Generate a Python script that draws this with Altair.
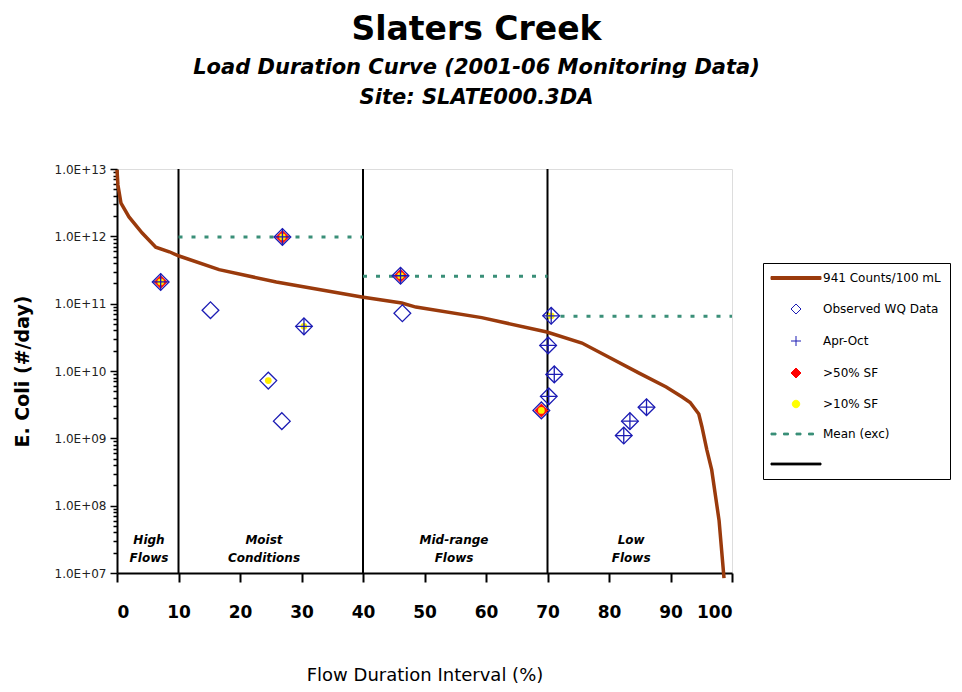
import altair as alt
import pandas as pd

# ---- data ----
curve_x = [0, 0.15, 0.65, 1.95, 4.1, 6.3, 8.5, 10.1, 16.6, 25.9, 39.8, 46.3, 48.6, 59.3,
           69.9, 75.6, 80.0, 84.9, 89.3, 91.9, 93.2, 94.6, 95.1, 95.9, 96.7, 97.9, 98.7]
curve_y = [9.7e12, 5.8e12, 3.1e12, 1.94e12, 1.12e12, 6.9e11, 5.9e11, 5.1e11, 3.2e11, 2.1e11,
           1.26e11, 1.02e11, 8.9e10, 6.2e10, 3.8e10, 2.6e10, 1.6e10, 9.3e9, 5.8e9, 4.1e9,
           3.4e9, 2.3e9, 1.5e9, 6.8e8, 3.4e8, 6.0e7, 8.4e6]

obs_x = [7.1, 15.2, 26.9, 30.4, 24.6, 26.8, 46.1, 46.4, 70.6, 70.1, 71.1, 70.2, 69.0, 86.1, 83.4, 82.4]
obs_y = [2.1e11, 8.0e10, 9.8e11, 4.6e10, 7.2e9, 1.8e9, 2.6e11, 7.2e10, 6.6e10, 2.4e10,
         8.9e9, 4.2e9, 2.6e9, 2.9e9, 1.8e9, 1.1e9]
apr_oct = [1, 0, 1, 1, 0, 0, 1, 0, 1, 1, 1, 1, 0, 1, 1, 1]
sf50 = [1, 0, 1, 0, 0, 0, 1, 0, 0, 0, 0, 0, 1, 0, 0, 0]
sf10 = [1, 0, 1, 1, 1, 0, 1, 0, 1, 0, 0, 0, 1, 0, 0, 0]

mean_x1 = [10, 40, 70]
mean_x2 = [40, 70, 100]
mean_y = [9.8e11, 2.55e11, 6.5e10]

bounds_x = [10, 40, 70]

section_names = ["High\nFlows", "Moist\nConditions", "Mid-range\nFlows", "Low\nFlows"]
section_x = [5.2, 23.9, 54.8, 83.6]
section_y = [3.1e7, 3.1e7, 3.1e7, 3.1e7]

legend_labels = ["941 Counts/100 mL", "Observed WQ Data", "Apr-Oct", ">50% SF", ">10% SF", "Mean (exc)", " "]

x_ticks = [0, 10, 20, 30, 40, 50, 60, 70, 80, 90, 100]
y_major = [1e7, 1e8, 1e9, 1e10, 1e11, 1e12, 1e13]
y_ticks = sorted(set(y_major + [m * d for d in y_major[:-1] for m in range(2, 10)]))

BROWN = "#9A3A0C"
BLUE = "#1C1CB4"
TEAL = "#3A8F78"
FONT = "DejaVu Sans"

curve_df = pd.DataFrame({"x": curve_x, "y": curve_y})
obs_df = pd.DataFrame({"x": obs_x, "y": obs_y, "apr": apr_oct, "sf50": sf50, "sf10": sf10})
mean_df = pd.DataFrame({"x1": mean_x1, "x2": mean_x2, "y": mean_y})
bnd_df = pd.DataFrame({"x": bounds_x})
sec_df = pd.DataFrame({"name": section_names, "x": section_x, "y": section_y})
leg_df = pd.DataFrame({"series": legend_labels, "x": [50] * 7, "y": [1e10] * 7})

xscale = alt.Scale(domain=[0, 100], nice=False, zero=False)
yscale = alt.Scale(type="log", domain=[1e7, 1e13], nice=False)

is_major = "abs(log(datum.value)/LN10 - round(log(datum.value)/LN10)) < 0.001"
y_label_expr = (is_major + " ? '1.0E+' + (round(log(datum.value)/LN10) < 10 ? '0' : '') + "
                "round(log(datum.value)/LN10) : ''")

x_axis = alt.Axis(values=x_ticks, title="Flow Duration Interval (%)", grid=False,
                  labelFont=FONT, labelFontSize=17, labelFontWeight="bold", labelColor="black",
                  labelPadding=22, tickSize=9, tickWidth=2, tickColor="black",
                  domainColor="black", domainWidth=2,
                  titleFont=FONT, titleFontSize=18, titleFontWeight="normal", titleColor="black",
                  titlePadding=46)
y_axis = alt.Axis(values=y_ticks, title="E. Coli (#/day)", grid=False, labelExpr=y_label_expr,
                  labelFont=FONT, labelFontSize=12, labelColor="#222222", labelPadding=4,
                  tickSize={"condition": {"test": is_major, "value": 7}, "value": 4},
                  tickWidth=1.5, tickColor="black", domainColor="black", domainWidth=2,
                  titleFont=FONT, titleFontSize=19, titleFontWeight="bold", titleColor="black",
                  titlePadding=22)

curve = alt.Chart(curve_df).mark_line(color=BROWN, strokeWidth=3.5, clip=False).encode(
    x=alt.X("x:Q", scale=xscale, axis=x_axis),
    y=alt.Y("y:Q", scale=yscale, axis=y_axis),
)

bnd = alt.Chart(bnd_df).mark_rule(color="black", strokeWidth=2).encode(
    x="x:Q", y=alt.value(0), y2=alt.value(404)
)

means = alt.Chart(mean_df).mark_rule(color=TEAL, strokeWidth=3, strokeDash=[4, 9]).encode(
    x="x1:Q", x2="x2:Q", y="y:Q"
)

red = alt.Chart(obs_df).transform_filter("datum.sf50 == 1").mark_point(
    shape="diamond", filled=True, color="#FF1010", size=196, opacity=1
).encode(x="x:Q", y="y:Q")

yellow = alt.Chart(obs_df).transform_filter("datum.sf10 == 1").mark_circle(
    color="#FFEE00", size=45, opacity=1
).encode(x="x:Q", y="y:Q")

diam = alt.Chart(obs_df).mark_point(
    shape="diamond", filled=False, color=BLUE, size=280, strokeWidth=1.3, opacity=1
).encode(x="x:Q", y="y:Q")

plus = alt.Chart(obs_df).transform_filter("datum.apr == 1").mark_point(
    shape="M-1,0H1M0,-1V1", filled=False, color=BLUE, size=280, strokeWidth=1.3, opacity=1
).encode(x="x:Q", y="y:Q")

sections = alt.Chart(sec_df).mark_text(
    font=FONT, fontSize=12, fontStyle="italic", fontWeight="bold", color="black",
    lineBreak="\n", baseline="middle", lineHeight=18
).encode(x="x:Q", y="y:Q", text="name:N")

# legend symbols: thick lines drawn as thin filled bars, dashed line as separate bars
BAR = "M-5,-0.3H5V0.3H-5Z"
THIN_BAR = "M-5,-0.18H5V0.18H-5Z"
DASHES = ("M-5,-0.18H-4V0.18H-5Z M-2.5,-0.18H-1.5V0.18H-2.5Z "
          "M0,-0.18H1V0.18H0Z M2.5,-0.18H3.5V0.18H2.5Z")
DIAMOND = "M0,-1L1,0L0,1L-1,0Z"
PLUS = "M-1,0H1M0,-1V1"
DOT = "M0.75,0A0.75,0.75,0,1,1,-0.75,0A0.75,0.75,0,1,1,0.75,0Z"

leg_shapes = [BAR, DIAMOND, PLUS, DIAMOND, DOT, DASHES, THIN_BAR]
leg_stroke = [BROWN, BLUE, BLUE, "#FF0000", "#FFFF00", TEAL, "black"]
leg_fill = [BROWN, "transparent", "transparent", "#FF0000", "#FFFF00", TEAL, "black"]

legend = alt.Legend(orient="none", legendX=646, legendY=94, title=None,
                    strokeColor="black", fillColor="white", padding=9,
                    labelFont=FONT, labelFontSize=12, labelColor="black",
                    symbolOffset=18, labelOffset=21, rowPadding=18, symbolSize=100,
                    symbolStrokeWidth=1)

leg_layer = alt.Chart(leg_df).transform_filter("datum.x < 0").mark_point(opacity=1, strokeWidth=1).encode(
    x="x:Q", y="y:Q",
    shape=alt.Shape("series:N", scale=alt.Scale(domain=legend_labels, range=leg_shapes), legend=legend),
    stroke=alt.Stroke("series:N", scale=alt.Scale(domain=legend_labels, range=leg_stroke), legend=legend),
    fill=alt.Fill("series:N", scale=alt.Scale(domain=legend_labels, range=leg_fill), legend=legend),
)

chart = alt.layer(bnd, means, curve, red, yellow, diam, plus, sections, leg_layer).properties(
    width=615, height=404,
    padding={"left": 5, "top": 5, "right": 0, "bottom": 0},
    title=alt.TitleParams(
        text="Slaters Creek",
        subtitle=["Load Duration Curve  (2001-06 Monitoring Data)", "Site:  SLATE000.3DA"],
        font=FONT, fontSize=33, fontWeight="bold", color="black",
        subtitleFont=FONT, subtitleFontSize=21, subtitleFontWeight="bold",
        subtitleFontStyle="italic", subtitleColor="black", subtitlePadding=10,
        subtitleLineHeight=30, anchor="middle", offset=55, dx=52,
    ),
).configure_view(stroke="black", strokeWidth=2).configure(background="white")

chart.save("out.html", embed_options={"renderer": "svg", "actions": False})
